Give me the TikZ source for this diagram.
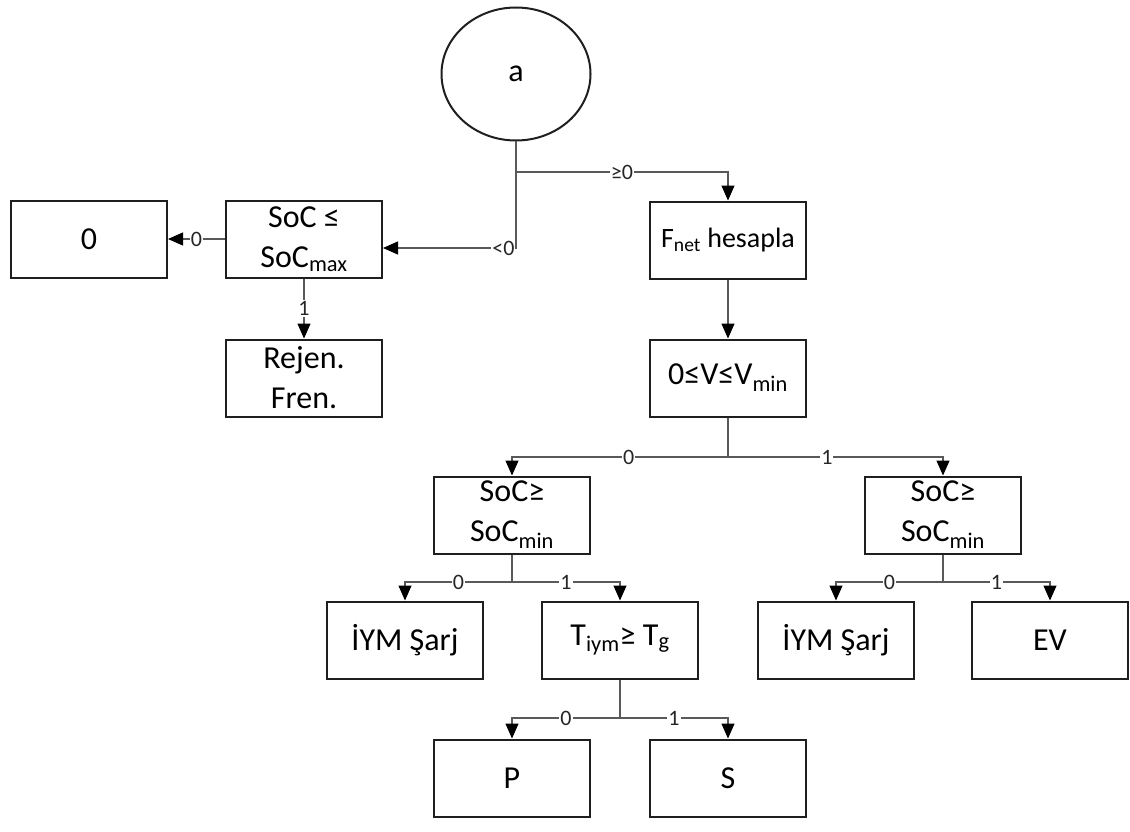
\documentclass[tikz,border=0pt]{standalone}
\usepackage{fontspec}
\setmainfont{Carlito}
\usetikzlibrary{arrows.meta,shapes.geometric,calc}
\begin{document}
\begin{tikzpicture}[x=1pt,y=-1pt,
  box/.style={draw=black!88,line width=2pt,minimum width=156pt,minimum height=77pt,
    align=center,inner sep=1pt,font=\fontsize{32}{40}\selectfont},
  oval/.style={ellipse,draw=black!88,line width=2pt,minimum width=149pt,minimum height=133pt,
    font=\fontsize{32}{40}\selectfont},
  line/.style={draw=black!65,line width=1.2pt},
  arr/.style={line,-{Triangle[length=15pt,width=13pt,fill=black,color=black]}},
  lbl/.style={fill=white,inner sep=1pt,font=\fontsize{22}{24}\selectfont,text=black!85}]
\useasboundingbox (0,0) rectangle (1130,832);
\node[oval] (a) at (516,74) {a};
\node[box] (n0) at (89,239) {0};
\node[box] (soc) at (304,239) {SoC ≤\\SoC\textsubscript{max}};
\node[box] (rej) at (304,378) {Rejen.\\Fren.};
\node[box,font=\fontsize{28}{40}\selectfont] (fnet) at (728,240) {F\textsubscript{net} hesapla};
\node[box] (vmin) at (728,378) {0≤V≤V\textsubscript{min}};
\node[box] (socL) at (512,515) {SoC≥\\SoC\textsubscript{min}};
\node[box] (socR) at (943,515) {SoC≥\\SoC\textsubscript{min}};
\node[box] (iymL) at (405,640) {İYM Şarj};
\node[box] (tiym) at (620,640) {T\textsubscript{iym}≥ T\textsubscript{g}};
\node[box] (iymR) at (836,640) {İYM Şarj};
\node[box] (ev) at (1050,640) {EV};
\node[box] (P) at (512,778) {P};
\node[box] (S) at (728,778) {S};
% top branch
\coordinate (ja) at (a.south |- 0,172);
\draw[arr] (a.south) |- node[lbl,pos=0.5,anchor=east]{<0} ([yshift=-9pt]soc.east);
\draw[arr] (ja) -| node[lbl,pos=0.25]{≥0} (fnet.north);
\draw[arr] (soc.west) -- node[lbl]{0} (n0.east);
\draw[arr] (soc.south) -- node[lbl]{1} (rej.north);
\draw[arr] (fnet.south) -- (vmin.north);
% vmin branch
\coordinate (jv) at (vmin.south |- 0,457);
\draw[line] (vmin.south) -- (jv);
\draw[arr] (jv) -| node[lbl,pos=0.23]{0} (socL.north);
\draw[arr] (jv) -| node[lbl,pos=0.23]{1} (socR.north);
% socL branch
\coordinate (jl) at (socL.south |- 0,582);
\draw[line] (socL.south) -- (jl);
\draw[arr] (jl) -| node[lbl,pos=0.25]{0} (iymL.north);
\draw[arr] (jl) -| node[lbl,pos=0.25]{1} (tiym.north);
% socR branch
\coordinate (jr) at (socR.south |- 0,582);
\draw[line] (socR.south) -- (jr);
\draw[arr] (jr) -| node[lbl,pos=0.25]{0} (iymR.north);
\draw[arr] (jr) -| node[lbl,pos=0.25]{1} (ev.north);
% tiym branch
\coordinate (jt) at (tiym.south |- 0,718);
\draw[line] (tiym.south) -- (jt);
\draw[arr] (jt) -| node[lbl,pos=0.25]{0} (P.north);
\draw[arr] (jt) -| node[lbl,pos=0.25]{1} (S.north);
\end{tikzpicture}
\end{document}
